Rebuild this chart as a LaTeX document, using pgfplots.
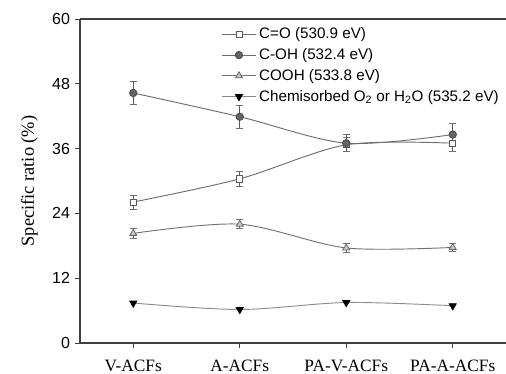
\documentclass[border=0pt]{standalone}
\usepackage{pgfplots}
\pgfplotsset{compat=1.18}
\usepackage{fontspec}
\setmainfont{Liberation Serif}
\newfontfamily\sansf{Liberation Sans}
\definecolor{lin}{RGB}{110,110,110}
\definecolor{circ}{RGB}{100,100,100}
\definecolor{tri}{RGB}{200,200,200}
\begin{document}
\begin{tikzpicture}
\begin{axis}[
  scale only axis,
  width=319.5pt, height=243pt,
  xmin=-0.5, xmax=3.5, ymin=0, ymax=60,
  separate axis lines,
  axis x line=box, axis y line=left,
  axis line style={-, draw=black!75, line width=0.8pt},
  xtick={0,1,2,3},
  xticklabels={V-ACFs,A-ACFs,PA-V-ACFs,PA-A-ACFs},
  ytick={0,12,24,36,48,60},
  tick align=outside,
  major tick length=4pt,
  x tick style={draw=black!75, line width=0.6pt},
  y tick style={draw=black!75, line width=0.6pt},
  xtick pos=bottom, ytick pos=left,
  xticklabel style={font=\fontsize{13}{15}\selectfont, yshift=-5pt},
  yticklabel style={font=\sansf\fontsize{12}{14}\selectfont},
  /pgf/number format/assume math mode=true,
  ylabel={Specific ratio (\%)},
  ylabel style={font=\fontsize{13.8}{16}\selectfont, yshift=4pt},
  legend style={at={(0.322,0.99)}, anchor=north west, draw=none, fill=none,
    font=\sansf\fontsize{11.4}{13}\selectfont, row sep=1.8pt,
    legend cell align=left},
  legend image code/.code={\draw[mark=none] (0cm,0cm) -- (0.9cm,0cm); \draw[only marks] plot coordinates {(0.45cm,0cm)};},
  every axis plot/.append style={line width=0.7pt, smooth, tension=0.5},
  error bars/y dir=both, error bars/y explicit,
  error bars/error mark options={rotate=90, mark size=2.5pt, line width=0.6pt},
  error bars/error bar style={line width=0.6pt},
]
\addplot[lin, mark=square*, mark size=2.3pt, mark options={fill=white, draw=black!65, line width=0.6pt},
  error bars/error bar style={draw=black!65}]
  coordinates {(0,26.1) +- (0,1.3) (1,30.4) +- (0,1.4) (2,36.7) +- (0,1.3) (3,37.0) +- (0,1.5)};
\addlegendentry{C=O (530.9 eV)}
\addplot[lin, mark=*, mark size=2.8pt, mark options={fill=circ, draw=black!70, line width=0.6pt},
  error bars/error bar style={draw=black!65}]
  coordinates {(0,46.3) +- (0,2.2) (1,41.9) +- (0,2.1) (2,37.0) +- (0,1.6) (3,38.6) +- (0,2.0)};
\addlegendentry{C-OH (532.4 eV)}
\addplot[black!55, mark=triangle*, mark size=3pt, mark options={fill=tri, draw=black!60, line width=0.6pt},
  error bars/error bar style={draw=black!60}]
  coordinates {(0,20.3) +- (0,1.0) (1,22.0) +- (0,0.8) (2,17.6) +- (0,0.8) (3,17.7) +- (0,0.8)};
\addlegendentry{COOH (533.8 eV)}
\addplot[black!45, mark=triangle*, mark size=3pt, mark options={fill=black, draw=black, rotate=180}]
  coordinates {(0,7.4) (1,6.2) (2,7.5) (3,6.9)};
\addlegendentry{Chemisorbed O\textsubscript{2} or H\textsubscript{2}O (535.2 eV)}
\end{axis}
\pgfresetboundingbox
\useasboundingbox ([xshift=-60pt,yshift=-23.25pt]current axis.south west) rectangle ([yshift=14.25pt]current axis.north east);
\end{tikzpicture}
\end{document}
